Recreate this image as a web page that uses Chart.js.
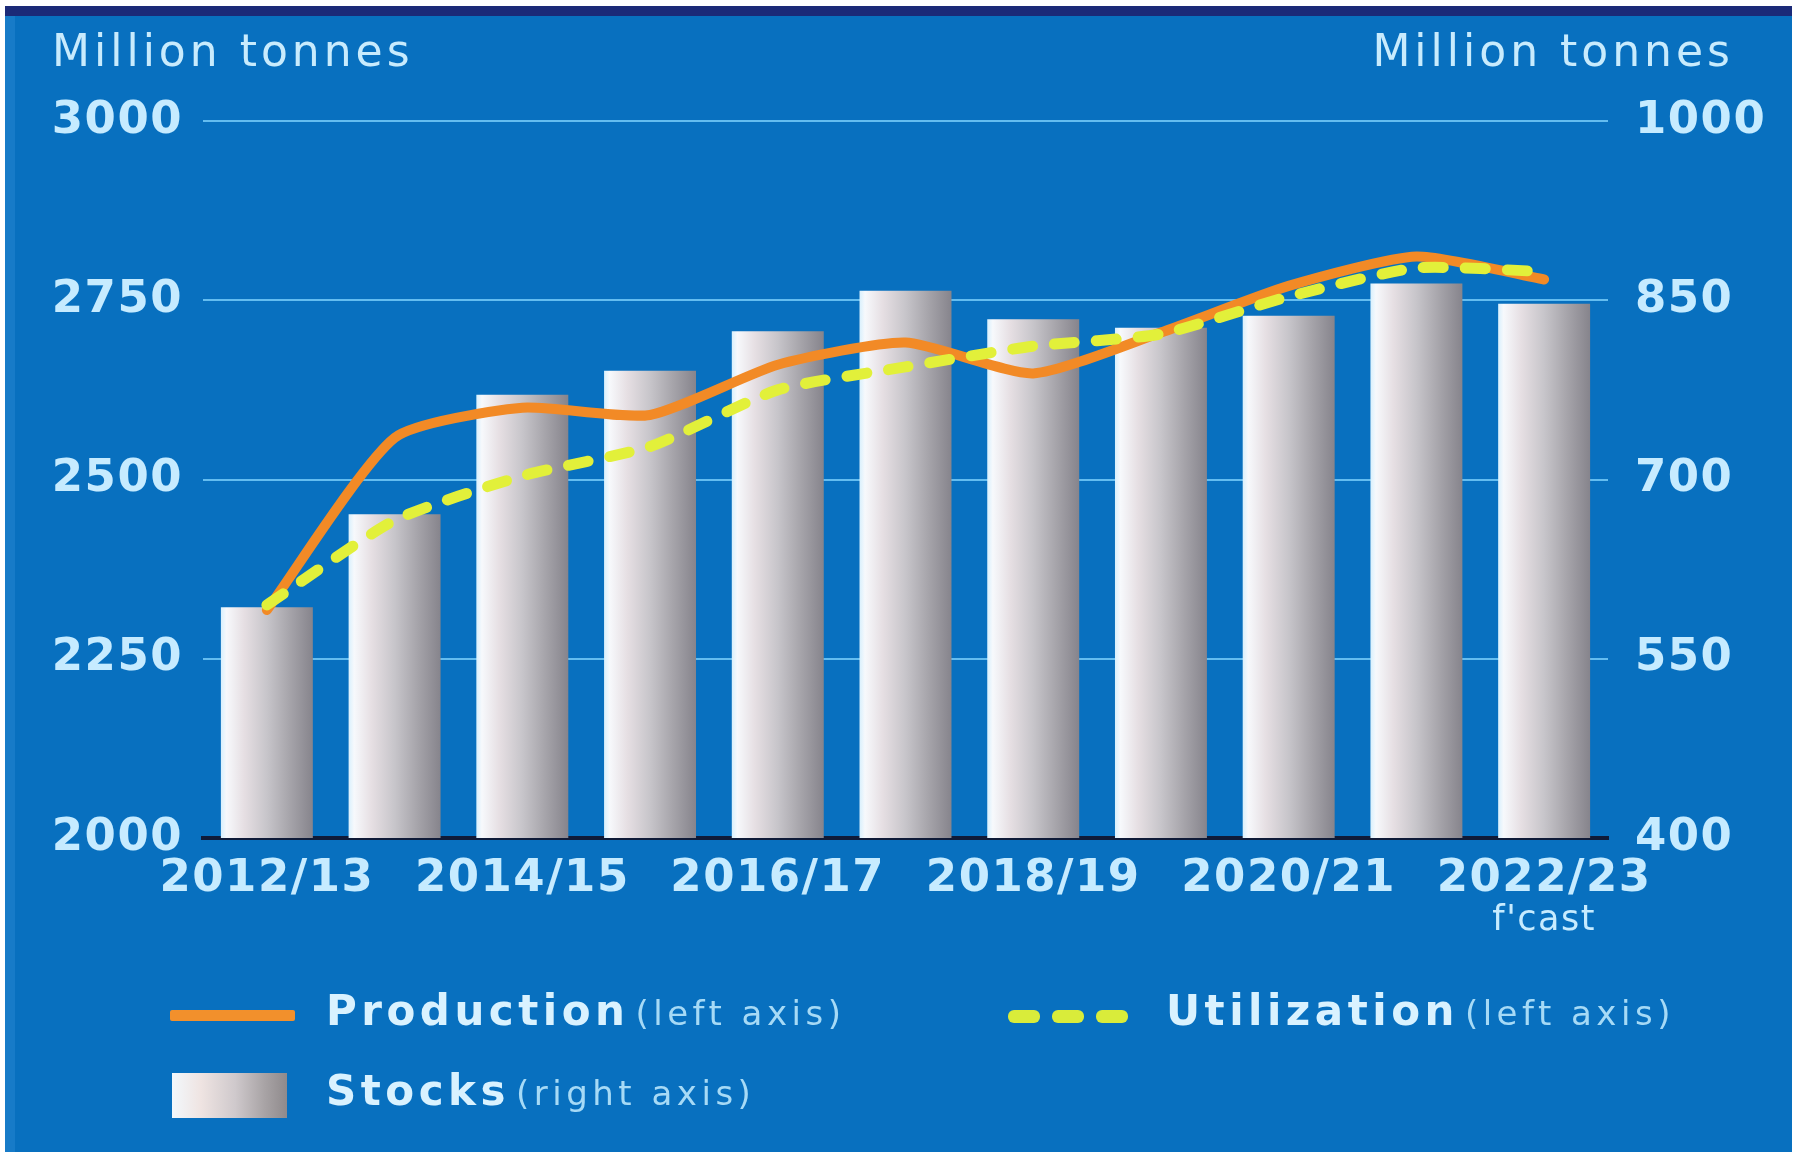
<!DOCTYPE html>
<html>
<head>
<meta charset="utf-8">
<script src="https://cdn.jsdelivr.net/npm/chart.js@4/dist/chart.umd.min.js"></script>
<style>
  html, body { margin: 0; padding: 0; background: #ffffff; }
  #page { position: relative; width: 1806px; height: 1152px; overflow: hidden; background: #ffffff; }
  #panel { position: absolute; left: 5px; top: 6px; width: 1787px; height: 1146px; background: #0870bf; }
  #panel .topband { position: absolute; left: 0; top: 0; width: 100%; height: 10px; background: #1b2a78; }
  #panel .leftband { position: absolute; left: 0; top: 10px; width: 10px; bottom: 0; background: #177bc8; }
  #chartBox { position: absolute; left: 0; top: 0; width: 1806px; height: 1152px; }
  .txt { position: absolute; font-family: "DejaVu Sans", sans-serif; line-height: 1; white-space: nowrap; }
  .unit { font-size: 44px; letter-spacing: 4px; color: #c8ebfd; top: 29px; }
  .lg { font-size: 42px; font-weight: bold; letter-spacing: 4.5px; color: #d9f2ff; }
  .lg .sub { font-size: 34px; font-weight: normal; letter-spacing: 4.5px; color: #a6daf6; margin-left: 6px; }
  .sw { position: absolute; }
</style>
</head>
<body>
<div id="page">
  <div id="panel"><div class="topband"></div><div class="leftband"></div></div>
  <div id="chartBox"><canvas id="chart"></canvas></div>

  <div class="txt unit" style="left:52px;">Million tonnes</div>
  <div class="txt unit" style="right:72px;">Million tonnes</div>

  <!-- legend -->
  <div class="sw" style="left:170px; top:1010px; width:125px; height:11px; background:#f2902c; border-radius:2px;"></div>
  <div class="txt lg" style="left:326px; top:990px;">Production<span class="sub">(left axis)</span></div>

  <div class="sw" style="left:1008px; top:1010px; width:32px; height:13px; background:#d9ec3a; border-radius:6px;"></div>
  <div class="sw" style="left:1052px; top:1010px; width:32px; height:13px; background:#d9ec3a; border-radius:6px;"></div>
  <div class="sw" style="left:1096px; top:1010px; width:32px; height:13px; background:#d9ec3a; border-radius:6px;"></div>
  <div class="txt lg" style="left:1166px; top:990px;">Utilization<span class="sub">(left axis)</span></div>

  <div class="sw" style="left:172px; top:1073px; width:115px; height:45px; background:linear-gradient(to right, #f2f8fc 0%, #efe4e2 25%, #cfc9cc 55%, #a9a4a6 80%, #8f8a8c 100%);"></div>
  <div class="txt lg" style="left:326px; top:1070px;">Stocks<span class="sub">(right axis)</span></div>
</div>

<script>
// Marketing seasons on the category axis
const seasons = ['2012/13', '2013/14', '2014/15', '2015/16', '2016/17', '2017/18',
                 '2018/19', '2019/20', '2020/21', '2021/22', '2022/23'];
// Line series, left axis (million tonnes)
const production  = [2318, 2558, 2600, 2590, 2660, 2691, 2648, 2705, 2770, 2811, 2779];
const utilization = [2325, 2443, 2505, 2546, 2625, 2657, 2686, 2703, 2755, 2795, 2790];
// Bar series, right axis (million tonnes)
const stocks      = [593, 671, 771, 791, 824, 858, 834, 827, 837, 864, 847];
// Axis ticks
const leftTicks  = [2000, 2250, 2500, 2750, 3000];
const rightTicks = [400, 550, 700, 850, 1000];
// Note under the last season
const forecastNote = seasons.map((s, i) => (i === seasons.length - 1 ? "f'cast" : ''));

const BAR_FRACTION = 0.72;
const TICK_FONT = { family: '"DejaVu Sans", sans-serif', size: 45, weight: 'bold' };
const TICK_COLOR = '#c6ebff';

// Cylinder-like shading across each bar
function barShade(c) {
  const chart = c.chart;
  const xs = chart.scales.x;
  if (!xs || c.type !== 'data' || !isFinite(xs.width)) return '#c8c6cc';
  const cx = xs.getPixelForValue(c.dataIndex);
  const w = (xs.width / seasons.length) * BAR_FRACTION;
  const g = chart.ctx.createLinearGradient(cx - w / 2, 0, cx + w / 2, 0);
  g.addColorStop(0.00, '#d8f0fd');
  g.addColorStop(0.06, '#f7f9fc');
  g.addColorStop(0.25, '#e6dfe3');
  g.addColorStop(0.50, '#c7c5ca');
  g.addColorStop(0.75, '#a6a4aa');
  g.addColorStop(1.00, '#86848c');
  return g;
}

const spacedText = {
  id: 'spacedText',
  beforeDraw(chart) { chart.ctx.letterSpacing = '1.5px'; }
};

const plainNumber = v => String(v);

new Chart(document.getElementById('chart'), {
  type: 'bar',
  data: {
    labels: seasons,
    datasets: [
      {
        type: 'line',
        label: 'Utilization',
        data: utilization,
        yAxisID: 'y',
        borderColor: '#e2f03a',
        borderWidth: 11,
        borderDash: [20, 22],
        borderCapStyle: 'round',
        borderJoinStyle: 'round',
        tension: 0.2,
        pointRadius: 0,
        fill: false,
        order: 1
      },
      {
        type: 'line',
        label: 'Production',
        data: production,
        yAxisID: 'y',
        borderColor: '#f28a26',
        borderWidth: 10,
        borderCapStyle: 'round',
        borderJoinStyle: 'round',
        tension: 0.2,
        pointRadius: 0,
        fill: false,
        order: 2
      },
      {
        type: 'bar',
        label: 'Stocks',
        data: stocks,
        yAxisID: 'y1',
        backgroundColor: barShade,
        borderWidth: 0,
        categoryPercentage: 1,
        barPercentage: BAR_FRACTION,
        order: 3
      }
    ]
  },
  options: {
    responsive: true,
    maintainAspectRatio: false,
    animation: false,
    layout: { padding: { top: 121, left: 0, right: 0, bottom: 0 } },
    plugins: { legend: { display: false }, tooltip: { enabled: false } },
    scales: {
      x: {
        type: 'category',
        position: 'bottom',
        weight: 0,
        z: 1,
        offset: true,
        grid: { display: false, drawTicks: false },
        border: { display: true, color: '#0f1b38', width: 4 },
        ticks: {
          autoSkip: false, maxRotation: 0, minRotation: 0, padding: 14,
          color: TICK_COLOR, font: TICK_FONT,
          callback: (v, i) => (i % 2 === 0 ? seasons[i] : '')
        },
        afterFit: s => { s.height = 64; }
      },
      x2: {
        type: 'category',
        position: 'bottom',
        weight: 1,
        offset: true,
        labels: forecastNote,
        grid: { display: false, drawTicks: false },
        border: { display: false },
        ticks: {
          autoSkip: false, maxRotation: 0, minRotation: 0, padding: 1,
          color: TICK_COLOR,
          font: { family: '"DejaVu Sans", sans-serif', size: 35, lineHeight: 1.0 }
        },
        afterFit: s => { s.height = 250; }
      },
      y: {
        position: 'left',
        min: leftTicks[0],
        max: leftTicks[leftTicks.length - 1],
        afterBuildTicks: s => { s.ticks = leftTicks.map(v => ({ value: v })); },
        grid: {
          drawTicks: false,
          lineWidth: 2,
          color: c => (c.tick && c.tick.value === leftTicks[0] ? 'rgba(0,0,0,0)' : '#64bdf0')
        },
        border: { display: false },
        ticks: { padding: 20, color: TICK_COLOR, font: TICK_FONT, callback: plainNumber },
        afterFit: s => { s.width = 203; }
      },
      y1: {
        position: 'right',
        min: rightTicks[0],
        max: rightTicks[rightTicks.length - 1],
        afterBuildTicks: s => { s.ticks = rightTicks.map(v => ({ value: v })); },
        grid: { display: false, drawTicks: false },
        border: { display: false },
        ticks: { padding: 27, color: TICK_COLOR, font: TICK_FONT, callback: plainNumber },
        afterFit: s => { s.width = 198; }
      }
    }
  },
  plugins: [spacedText]
});
</script>
</body>
</html>
